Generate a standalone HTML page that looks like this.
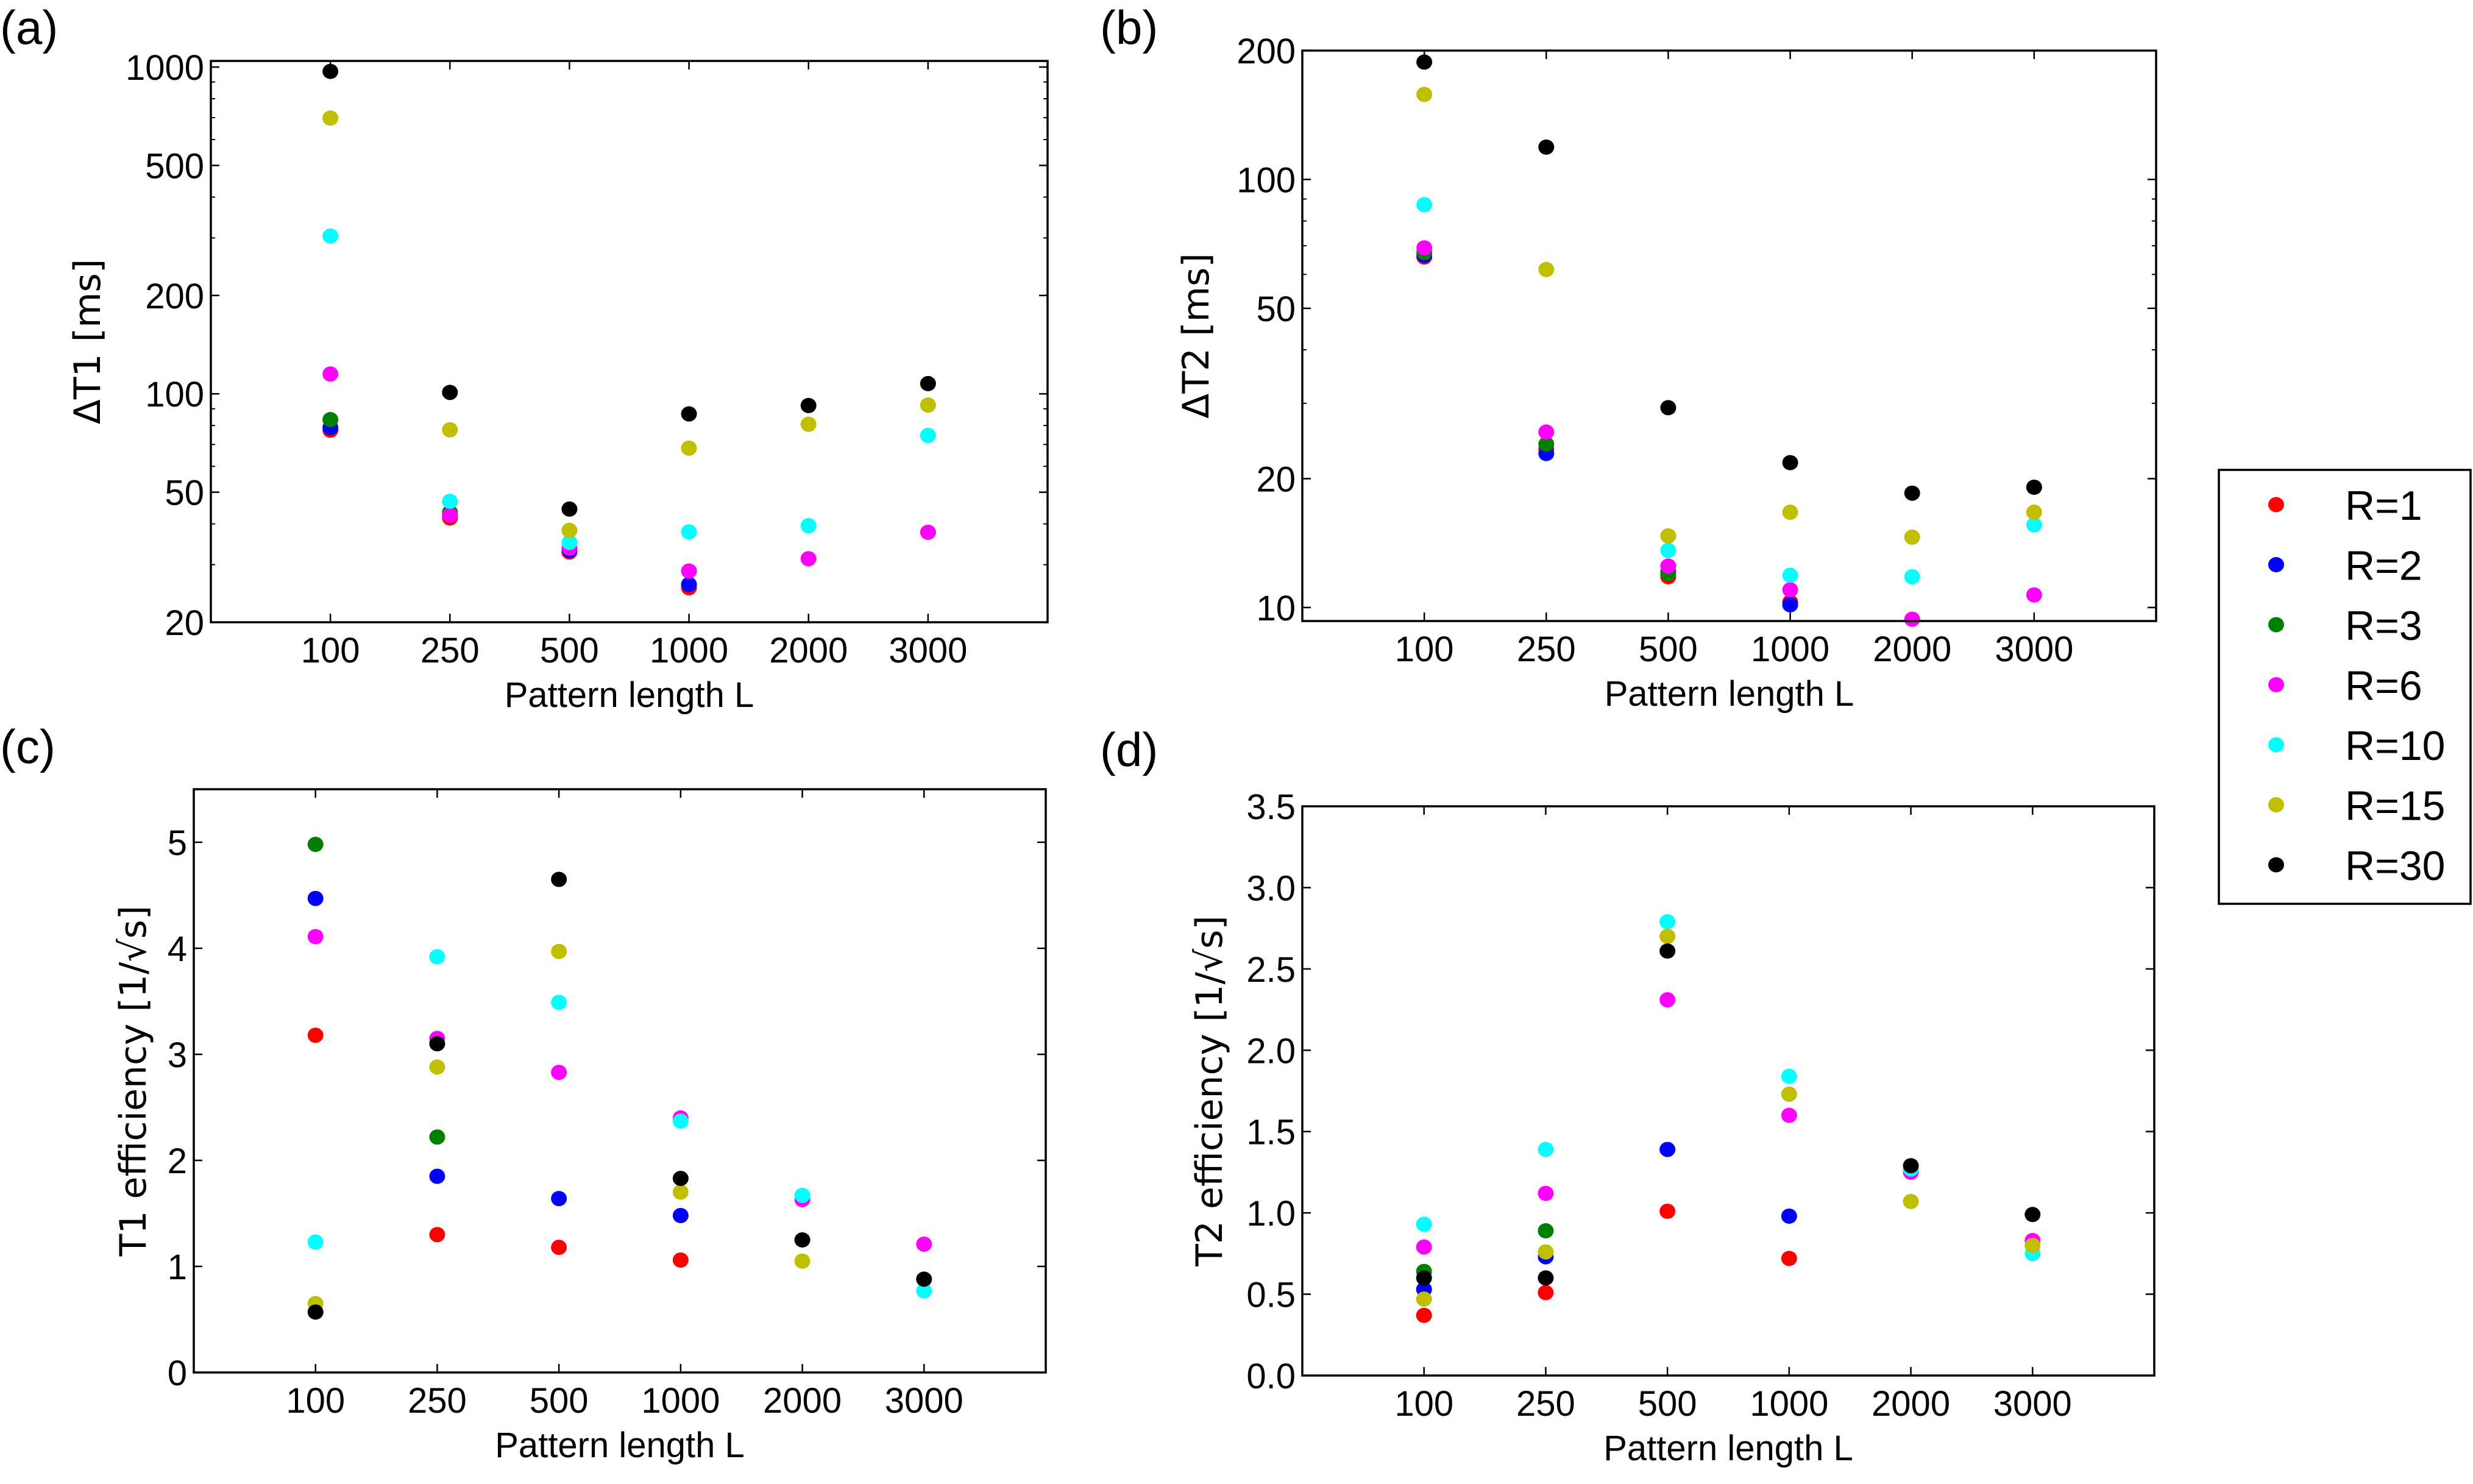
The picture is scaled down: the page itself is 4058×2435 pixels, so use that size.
<!DOCTYPE html>
<html><head><meta charset="utf-8"><style>
html,body{margin:0;padding:0;background:#fff;}
svg{display:block;font-family:"Liberation Sans",sans-serif;}
</style></head><body>
<svg id="fig" width="4058" height="2435" viewBox="0 0 4058 2435" xmlns="http://www.w3.org/2000/svg"></svg>
<script>
const categories = ["100","250","500","1000","2000","3000"];
const seriesNames = ["R=1","R=2","R=3","R=6","R=10","R=15","R=30"];
const seriesColors = ["#ff0000","#0000ff","#008000","#ff00ff","#00ffff","#bfbf00","#000000"];
// (a) ΔT1
const a_R1 = [77.4,41.7,32.8,25.5,null,null];
const a_R2 = [78.8,42.5,33.2,26.1,null,null];
const a_R3 = [83.4,43.4,null,null,null,null];
const a_R6 = [115,42.5,33.7,28.7,31.3,37.7];
const a_R10 = [304,46.9,35.1,37.8,39.5,74.6];
const a_R15 = [698,77.6,38.2,68.2,80.7,92.4];
const a_R30 = [970,101,44.4,86.8,92.1,107.5];
// (b) ΔT2
const b_R1 = [65.9,23.5,11.8,10.3,null,null];
const b_R2 = [66.5,22.9,12.1,10.15,null,null];
const b_R3 = [67.5,24.1,12.0,null,null,null];
const b_R6 = [69.2,25.7,12.5,11.0,9.39,10.7];
const b_R10 = [87.3,null,13.6,11.9,11.8,15.6];
const b_R15 = [158,61.6,14.7,16.7,14.6,16.7];
const b_R30 = [188,119,29.3,21.8,18.5,19.1];
// (c) T1 efficiency
const c_R1 = [3.18,1.30,1.18,1.06,null,null];
const c_R2 = [4.47,1.85,1.64,1.48,null,null];
const c_R3 = [4.98,2.22,null,null,null,null];
const c_R6 = [4.11,3.15,2.83,2.40,1.63,1.21];
const c_R10 = [1.23,3.92,3.49,2.37,1.67,0.77];
const c_R15 = [0.65,2.88,3.97,1.70,1.05,null];
const c_R30 = [0.57,3.10,4.65,1.83,1.25,0.88];
// (d) T2 efficiency
const d_R1 = [0.37,0.51,1.01,0.72,null,null];
const d_R2 = [0.53,0.73,1.39,0.98,null,null];
const d_R3 = [0.64,0.89,null,null,null,null];
const d_R6 = [0.79,1.12,2.31,1.60,1.25,0.83];
const d_R10 = [0.93,1.39,2.79,1.84,1.27,0.75];
const d_R15 = [0.47,0.76,2.70,1.73,1.07,0.80];
const d_R30 = [0.60,0.60,2.61,null,1.29,0.99];
const aTicks = [20,50,100,200,500,1000];
const bTicks = [10,20,50,100,200];
const cTicks = [0,1,2,3,4,5];
const dTicks = [0,0.5,1.0,1.5,2.0,2.5,3.0,3.5];

const NS = "http://www.w3.org/2000/svg";
const svg = document.getElementById("fig");
function el(tag, attrs, parent){
  const e = document.createElementNS(NS, tag);
  for (const k in attrs) e.setAttribute(k, attrs[k]);
  (parent||svg).appendChild(e);
  return e;
}
function panel(cfg){
  const g = el("g", {});
  
  
  const L=cfg.l,R=cfg.r,T=cfg.t,B=cfg.b;
  const step=(R-L)/7;
  const xs = i => L + (i+1)*step;
  let ys;
  if (cfg.log){
    const lo=Math.log10(cfg.ymin), hi=Math.log10(cfg.ymax);
    ys = v => B - (Math.log10(v)-lo)/(hi-lo)*(B-T);
  } else {
    ys = v => B - (v-cfg.ymin)/(cfg.ymax-cfg.ymin)*(B-T);
  }
  categories.forEach((c,i)=>{
    const x=xs(i);
    const t1 = el("line",{x1:x,x2:x,y1:B,y2:B-14,stroke:"#000","stroke-width":2.5},g);
    
    
    const t2 = el("line",{x1:x,x2:x,y1:T,y2:T+14,stroke:"#000","stroke-width":2.5},g);
    
    
    const tx = el("text",{x:x,y:B+66,"font-size":58,"text-anchor":"middle"},g);
    tx.textContent=c;
    
    
  });
  if (cfg.log){
    const lo=Math.floor(Math.log10(cfg.ymin)), hi=Math.ceil(Math.log10(cfg.ymax));
    for (let d=lo; d<=hi; d++){
      for (let m=1;m<10;m++){
        const v=m*Math.pow(10,d);
        if (v<cfg.ymin||v>cfg.ymax) continue;
        const y=ys(v);
        const mt = el("line",{x1:L,x2:L+7,y1:y,y2:y,stroke:"#000","stroke-width":2},g);
        
        
        const mt2 = el("line",{x1:R,x2:R-7,y1:y,y2:y,stroke:"#000","stroke-width":2},g);
        
        
      }
    }
  }
  cfg.ticks.forEach(v=>{
    const y=ys(v);
    const t1=el("line",{x1:L,x2:L+14,y1:y,y2:y,stroke:"#000","stroke-width":2.5},g);
    
    
    const t2=el("line",{x1:R,x2:R-14,y1:y,y2:y,stroke:"#000","stroke-width":2.5},g);
    
    
    const tx=el("text",{x:L-11,y:y+21,"font-size":58,"text-anchor":"end"},g);
    tx.textContent = cfg.fmt ? cfg.fmt(v) : String(v);
    
    
  });
  cfg.series.forEach((arr,si)=>{
    arr.forEach((v,i)=>{
      if (v===null) return;
      const c=el("ellipse",{cx:xs(i),cy:ys(v),rx:13,ry:12.5,fill:seriesColors[si]},g);
      
      
    });
  });
  const fr=el("rect",{x:L,y:T,width:R-L,height:B-T,fill:"none",stroke:"#000","stroke-width":3.5},g);
  
  
  const xl=el("text",{x:(L+R)/2,y:B+139,"font-size":58,"text-anchor":"middle"},g);
  xl.textContent="Pattern length L";
  
  
  const cy=(T+B)/2;
  const yl=el("text",{x:cfg.ylx,y:cy,"font-size":60,"text-anchor":"middle","font-family":"DejaVu Sans, sans-serif",transform:`rotate(-90 ${cfg.ylx} ${cy})`,"dominant-baseline":"central"},g);
  yl.textContent=cfg.ylabel;
  
  
  const pl=el("text",{x:cfg.px,y:cfg.py,"font-size":78},g);
  pl.textContent=cfg.plabel;
  
  
}
panel({name:"panel-a",l:346,r:1719,t:100,b:1021,log:true,ymin:20,ymax:1044,ticks:aTicks,
  series:[a_R1,a_R2,a_R3,a_R6,a_R10,a_R15,a_R30],ylabel:"ΔT1 [ms]",ylx:144,plabel:"(a)",px:0,py:72});
panel({name:"panel-b",l:2137,r:3538,t:83,b:1019,log:true,ymin:9.3,ymax:200,ticks:bTicks,
  series:[b_R1,b_R2,b_R3,b_R6,b_R10,b_R15,b_R30],ylabel:"ΔT2 [ms]",ylx:1963,plabel:"(b)",px:1805,py:72});
panel({name:"panel-c",l:318,r:1716,t:1295,b:2252,log:false,ymin:0,ymax:5.5,ticks:cTicks,
  series:[c_R1,c_R2,c_R3,c_R6,c_R10,c_R15,c_R30],ylabel:"T1 efficiency [1/√s]",ylx:219,plabel:"(c)",px:0,py:1252});
panel({name:"panel-d",l:2137,r:3535,t:1323,b:2257,log:false,ymin:0,ymax:3.5,ticks:dTicks,fmt:v=>v.toFixed(1),
  series:[d_R1,d_R2,d_R3,d_R6,d_R10,d_R15,d_R30],ylabel:"T2 efficiency [1/√s]",ylx:1985,plabel:"(d)",px:1805,py:1257});
const lg=el("g",{});


const lb=el("rect",{x:3641,y:771,width:413,height:712,fill:"#fff",stroke:"#000","stroke-width":3.5},lg);


seriesNames.forEach((n,i)=>{
  const y=828+i*98.5;
  const m=el("ellipse",{cx:3735,cy:y,rx:13,ry:12.5,fill:seriesColors[i]},lg);
  
  
  const t=el("text",{x:3848,y:y+25,"font-size":68},lg);
  t.textContent=n;
  
  
});
</script>
</body></html>
